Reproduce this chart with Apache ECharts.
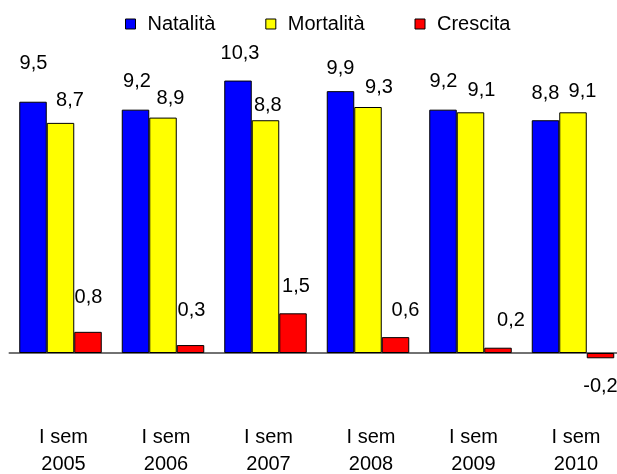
<!DOCTYPE html>
<html>
<head>
<meta charset="utf-8">
<script src="https://cdn.jsdelivr.net/npm/echarts@6/dist/echarts.min.js"></script>
<style>
  html, body { margin: 0; padding: 0; background: #fff; }
  #chart { width: 617px; height: 474px; }
</style>
</head>
<body>
<div id="chart"></div>
<script>
// Semester labels and rates (per 1000 inhabitants)
const semester = 'I sem';
const years = ['2005', '2006', '2007', '2008', '2009', '2010'];
const natalita = [9.5, 9.2, 10.3, 9.9, 9.2, 8.8];
const mortalita = [8.7, 8.9, 8.8, 9.3, 9.1, 9.1];
const crescita = [0.8, 0.3, 1.5, 0.6, 0.2, -0.2];

// Hand-placed value label nudges [dx, dy] from the bar end, in pixels
const natNudge = [[0.5, -38.5], [1.5, -28], [2, -27], [0, -22.5], [0.5, -28], [0, -27]];
const morNudge = [[9.5, -22], [7.5, -19], [2.3, -14.5], [11, -19.5], [11, -22], [9.5, -20.5]];
const creNudge = [[0.5, -34], [1, -35], [3, -26.5], [10, -27], [13, -27], [0, 28]];

const FONT = 'Liberation Sans, Arial, sans-serif';
const FONT_SIZE = 20;
const fmt = v => v.toFixed(1).replace('.', ',');

function items(values, nudges) {
  return values.map((v, i) => ({
    value: v,
    label: {
      position: v < 0 ? 'bottom' : 'top',
      offset: nudges[i]
    }
  }));
}

function barSeries(name, color, values, nudges) {
  return {
    name: name,
    type: 'bar',
    barWidth: 27.5,
    barGap: '0%',
    itemStyle: { color: color, borderColor: '#000', borderWidth: 1 },
    label: {
      show: true,
      distance: 0,
      verticalAlign: 'middle',
      align: 'center',
      fontFamily: FONT,
      fontSize: FONT_SIZE,
      color: '#000',
      formatter: p => fmt(p.value)
    },
    data: items(values, nudges)
  };
}

const chart = echarts.init(document.getElementById('chart'), null, { renderer: 'canvas' });
chart.setOption({
  animation: false,
  backgroundColor: '#fff',
  legend: {
    left: 125,
    top: 14,
    padding: 0,
    icon: 'rect',
    itemWidth: 10,
    itemHeight: 10,
    itemGap: 50,
    itemStyle: { borderColor: '#000', borderWidth: 1 },
    textStyle: { fontFamily: FONT, fontSize: FONT_SIZE, color: '#000', padding: [0, 0, 0, 7] },
    data: ['Natalità', 'Mortalità', 'Crescita']
  },
  grid: {
    left: 9.25, top: 35.6, width: 615, height: 370.3,
    containLabel: false,
    outerBoundsMode: 'none'
  },
  xAxis: {
    type: 'category',
    data: years.map(y => semester + '\n' + y),
    axisLine: { show: true, onZero: true, lineStyle: { color: '#444', width: 1.5 } },
    axisTick: { show: false },
    axisLabel: {
      margin: 18.5,
      interval: 0,
      fontFamily: FONT,
      fontSize: FONT_SIZE,
      lineHeight: 27,
      color: '#000',
      padding: [0, 0, 0, 6]
    }
  },
  yAxis: {
    type: 'value',
    min: -2,
    max: 12,
    show: false,
    splitLine: { show: false }
  },
  series: [
    barSeries('Natalità', '#0000ff', natalita, natNudge),
    barSeries('Mortalità', '#ffff00', mortalita, morNudge),
    barSeries('Crescita', '#ff0000', crescita, creNudge)
  ]
});
</script>
</body>
</html>
